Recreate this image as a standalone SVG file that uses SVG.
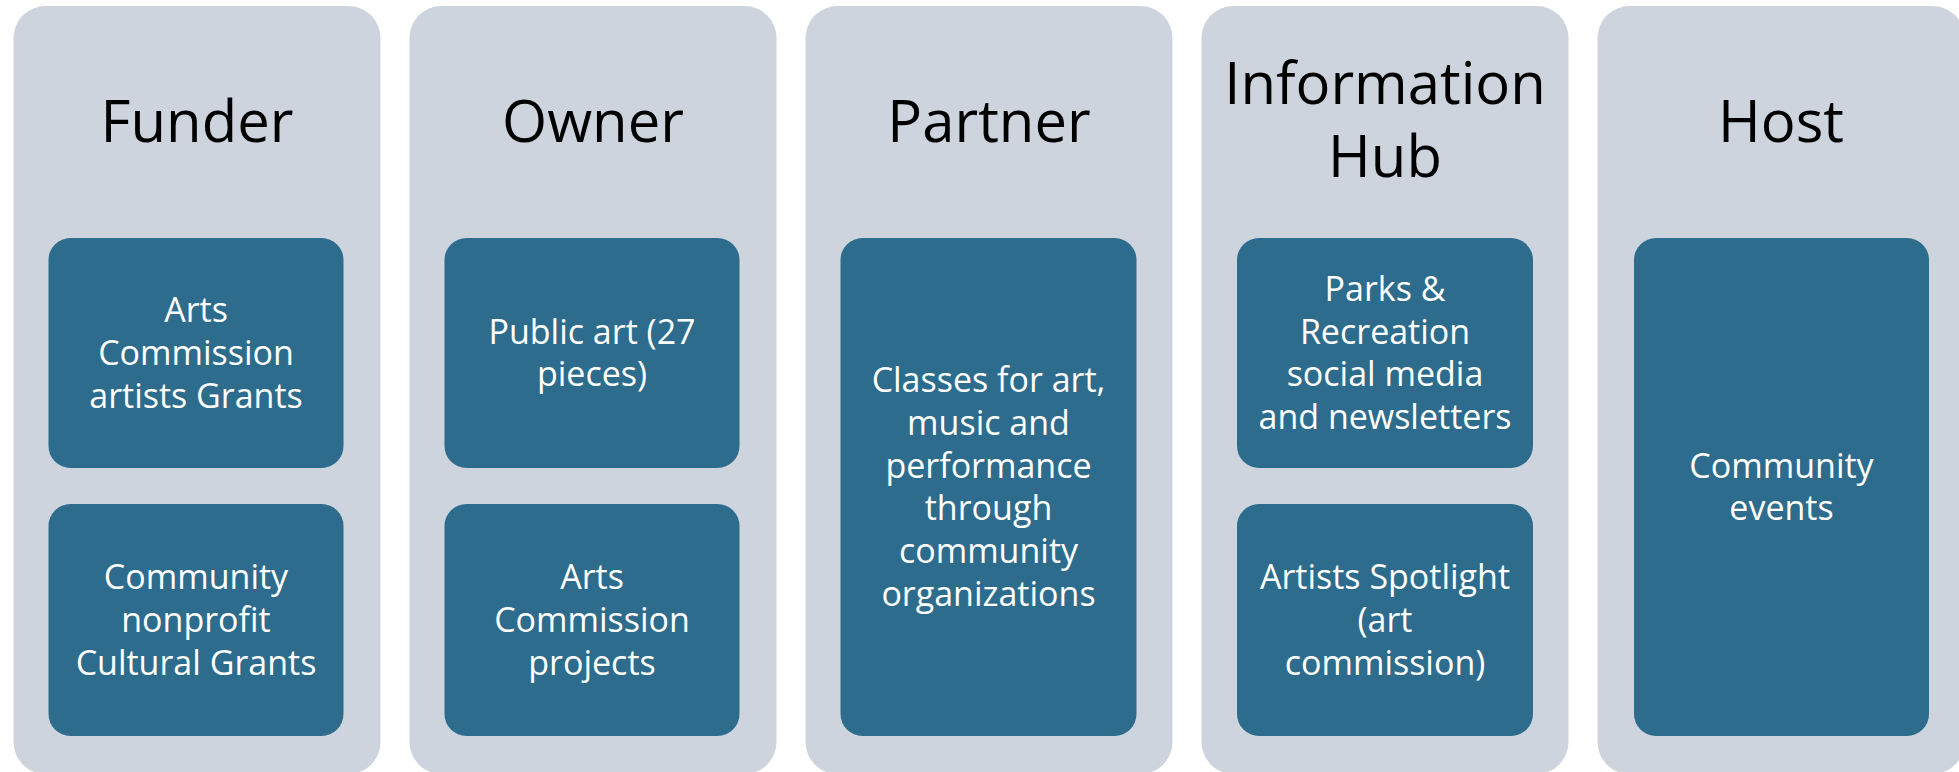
<svg xmlns="http://www.w3.org/2000/svg" width="1959" height="772" viewBox="0 0 1959 772">
<style>
.col{fill:#CDD4DD}
.box{fill:#2D6C8C}
.title{font-family:"Open Sans","Liberation Sans",sans-serif;font-size:58px;fill:#000;text-anchor:middle}
.txt{font-family:"Open Sans","Liberation Sans",sans-serif;font-size:34px;fill:#fff;text-anchor:middle}
</style>
<rect width="1959" height="772" fill="#fff"/>
<g id="funder">
<rect class="col" x="13.5" y="6" width="367" height="768" rx="32"/>
<text class="title" x="197" y="142">Funder</text>
<g id="funder-arts">
<rect class="box" x="48.5" y="238" width="295" height="230" rx="22"/>
<text class="txt" x="196" y="322.3">Arts</text>
<text class="txt" x="196" y="365">Commission</text>
<text class="txt" x="196" y="407.7">artists Grants</text>
</g>
<g id="funder-community">
<rect class="box" x="48.5" y="504" width="295" height="232" rx="22"/>
<text class="txt" x="196" y="589.3">Community</text>
<text class="txt" x="196" y="632">nonprofit</text>
<text class="txt" x="196" y="674.7">Cultural Grants</text>
</g>
</g>
<g id="owner">
<rect class="col" x="409.5" y="6" width="367" height="768" rx="32"/>
<text class="title" x="593" y="142">Owner</text>
<g id="owner-public">
<rect class="box" x="444.5" y="238" width="295" height="230" rx="22"/>
<text class="txt" x="592" y="343.7">Public art (27</text>
<text class="txt" x="592" y="386.4">pieces)</text>
</g>
<g id="owner-arts">
<rect class="box" x="444.5" y="504" width="295" height="232" rx="22"/>
<text class="txt" x="592" y="589.3">Arts</text>
<text class="txt" x="592" y="632">Commission</text>
<text class="txt" x="592" y="674.7">projects</text>
</g>
</g>
<g id="partner">
<rect class="col" x="805.5" y="6" width="367" height="768" rx="32"/>
<text class="title" x="989" y="142">Partner</text>
<g id="partner-classes">
<rect class="box" x="840.5" y="238" width="296" height="498" rx="22"/>
<text class="txt" x="988.5" y="392.3">Classes for art,</text>
<text class="txt" x="988.5" y="435">music and</text>
<text class="txt" x="988.5" y="477.7">performance</text>
<text class="txt" x="988.5" y="520.4">through</text>
<text class="txt" x="988.5" y="563.1">community</text>
<text class="txt" x="988.5" y="605.8">organizations</text>
</g>
</g>
<g id="infohub">
<rect class="col" x="1201.5" y="6" width="367" height="768" rx="32"/>
<text class="title" x="1385" y="104.3">Information</text>
<text class="title" x="1385" y="176.7">Hub</text>
<g id="infohub-parks">
<rect class="box" x="1237" y="238" width="296" height="230" rx="22"/>
<text class="txt" x="1385" y="301">Parks &amp;</text>
<text class="txt" x="1385" y="343.7">Recreation</text>
<text class="txt" x="1385" y="386.4">social media</text>
<text class="txt" x="1385" y="429.1">and newsletters</text>
</g>
<g id="infohub-artists">
<rect class="box" x="1237" y="504" width="296" height="232" rx="22"/>
<text class="txt" x="1385" y="589.3">Artists Spotlight</text>
<text class="txt" x="1385" y="632">(art</text>
<text class="txt" x="1385" y="674.7">commission)</text>
</g>
</g>
<g id="host">
<rect class="col" x="1597.5" y="6" width="367" height="768" rx="32"/>
<text class="title" x="1781" y="142">Host</text>
<g id="host-events">
<rect class="box" x="1634" y="238" width="295" height="498" rx="22"/>
<text class="txt" x="1781.5" y="477.7">Community</text>
<text class="txt" x="1781.5" y="520.4">events</text>
</g>
</g>
<g id="connectors"/>
</svg>
